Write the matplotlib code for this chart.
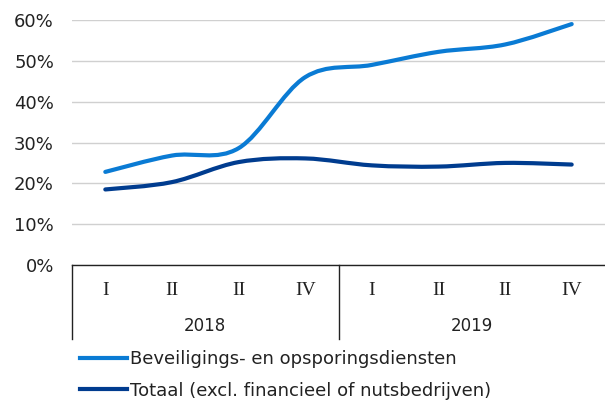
import numpy as np
import matplotlib
matplotlib.use('Agg')
import matplotlib.pyplot as plt
from matplotlib.path import Path
from matplotlib.patches import PathPatch
from matplotlib.lines import Line2D

kwartalen = ['I', 'II', 'II', 'IV', 'I', 'II', 'II', 'IV']
jaren = ['2018', '2019']
beveiliging = [22.8, 26.8, 28.6, 46.0, 49.0, 52.2, 54.0, 59.0]
totaal = [18.5, 20.3, 25.2, 26.1, 24.4, 24.1, 25.0, 24.6]
naam_bev = 'Beveiligings- en opsporingsdiensten'
naam_tot = 'Totaal (excl. financieel of nutsbedrijven)'

licht = '#0A7BD4'
donker = '#003C8F'


def gladde_lijn(ax, y, kleur):
    # excel-achtige smooth lijn: bezier segmenten door de punten
    x = np.arange(len(y), dtype=float)
    y = np.asarray(y, dtype=float)
    n = len(x)
    verts = [(x[0], y[0])]
    codes = [Path.MOVETO]
    for i in range(n - 1):
        x0, y0 = (x[i - 1], y[i - 1]) if i > 0 else (x[i], y[i])
        x3, y3 = (x[i + 2], y[i + 2]) if i + 2 < n else (x[i + 1], y[i + 1])
        c1 = (x[i] + (x[i + 1] - x0) / 6, y[i] + (y[i + 1] - y0) / 6)
        c2 = (x[i + 1] - (x3 - x[i]) / 6, y[i + 1] - (y3 - y[i]) / 6)
        verts += [c1, c2, (x[i + 1], y[i + 1])]
        codes += [Path.CURVE4] * 3
    ax.add_patch(PathPatch(Path(verts, codes), facecolor='none',
                           edgecolor=kleur, lw=3, capstyle='round', zorder=3))


plt.rcParams['font.family'] = ['DejaVu Sans']
fig = plt.figure(figsize=(6.05, 4.03), dpi=100)
ax = fig.add_axes([72 / 605, 1 - 265 / 403, 533 / 605, 245 / 403])

gladde_lijn(ax, beveiliging, licht)
gladde_lijn(ax, totaal, donker)

ax.set_xlim(-0.5, len(kwartalen) - 0.5)
ax.set_ylim(0, 60)
ax.set_yticks(range(0, 61, 10))
ax.set_yticklabels([f'{v}%' for v in range(0, 61, 10)], fontsize=13, color='#222222')
ax.tick_params(axis='y', length=0, pad=13)
ax.set_xticks([])
ax.grid(axis='y', color='#d0d0d0', lw=1)
ax.set_axisbelow(True)
for s in ['left', 'right', 'top']:
    ax.spines[s].set_visible(False)
ax.spines['bottom'].set_color('#222222')
ax.spines['bottom'].set_linewidth(1)

trans = ax.get_xaxis_transform()
for i, k in enumerate(kwartalen):
    ax.text(i, -0.105, k, transform=trans, ha='center', va='center',
            fontsize=14, family='Liberation Serif', color='#222222')
for j, jaar in enumerate(jaren):
    ax.text(j * 4 + 1.5, -0.25, jaar, transform=trans, ha='center', va='center',
            fontsize=12, color='#222222')
for xs in [-0.5, 3.5]:
    ax.plot([xs, xs], [0, -0.3], transform=trans, color='#222222', lw=1,
            clip_on=False)

handles = [Line2D([], [], color=licht, lw=3), Line2D([], [], color=donker, lw=3)]
fig.legend(handles, [naam_bev, naam_tot], loc='upper left',
           bbox_to_anchor=(64 / 605, 1 - 334 / 403), frameon=False,
           fontsize=13, handlelength=2.6, handletextpad=0.15, labelspacing=0.75,
           labelcolor='#222222')

fig.savefig('out.png', dpi=100)
